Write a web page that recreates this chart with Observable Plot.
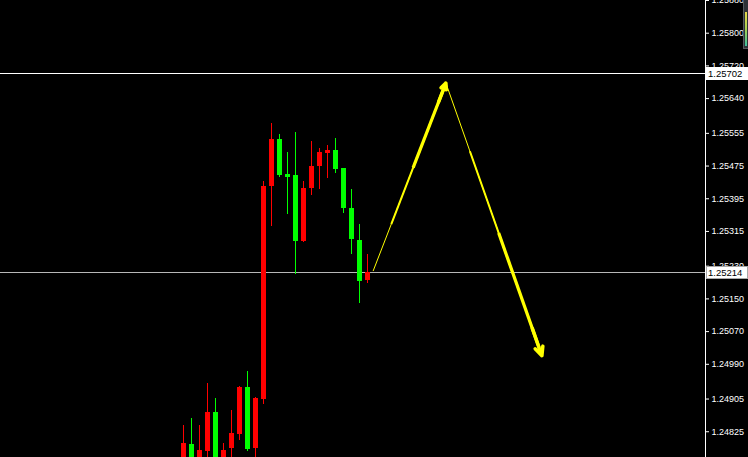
<!DOCTYPE html>
<html><head><meta charset="utf-8">
<script src="https://cdn.jsdelivr.net/npm/d3@7"></script>
<script src="https://cdn.jsdelivr.net/npm/@observablehq/plot@0.6"></script>
<style>
html,body{margin:0;padding:0;background:#000;overflow:hidden}
#chart{position:relative;width:748px;height:457px;overflow:hidden}
#widget{position:absolute;left:743px;top:0;width:5px;height:48px;background:#2e3236;border-left:1px solid #55595d;border-bottom:1px solid #55595d}
#widget div{position:absolute;left:1px;top:12px;width:2px;height:34px;background:linear-gradient(#e8d84a,#a8d050,#3cc0a0)}
</style></head><body><div id="chart"><div id="widget"><div></div></div></div>
<script>
// candle index (bar number)
const bars  = [0,1,2,3,4,5,6,7,8,9,10,11,12,13,14,15,16,17,18,19,20,21,22,23];
const open  = [1.24745,1.24794,1.24745,1.24777,1.24871,1.24745,1.24783,1.24818,1.24933,1.24783,1.24903,1.25424,1.25539,1.25452,1.25453,1.25290,1.25420,1.25473,1.25505,1.25514,1.25468,1.25372,1.25294,1.25195];
const high  = [1.24840,1.24857,1.24840,1.24942,1.24906,1.24796,1.24876,1.24935,1.24972,1.24908,1.25438,1.25580,1.25551,1.25509,1.25558,1.25436,1.25536,1.25517,1.25526,1.25543,1.25470,1.25418,1.25331,1.25258];
const low   = [1.24735,1.24735,1.24735,1.24750,1.24735,1.24735,1.24755,1.24803,1.24776,1.24750,1.24891,1.25327,1.25446,1.25356,1.25209,1.25288,1.25402,1.25417,1.25444,1.25456,1.25358,1.25258,1.25139,1.25187];
const close = [1.24796,1.24745,1.24779,1.24871,1.24745,1.24779,1.24820,1.24933,1.24781,1.24906,1.25424,1.25539,1.25451,1.25450,1.25290,1.25421,1.25475,1.25507,1.25514,1.25466,1.25371,1.25295,1.25192,1.25214];

// right price scale tick labels
const priceTicks = [1.25880,1.25800,1.25720,1.25640,1.25555,1.25475,1.25395,1.25315,1.25230,1.25150,1.25070,1.24990,1.24905,1.24825];

// horizontal price levels
const levelPrice = [1.25702, 1.25214];
const levelName  = ["high", "bid"];

// forecast arrows (bar, price)
const arrowBar1   = [23.7, 32.8];
const arrowPrice1 = [1.25218, 1.25678];
const arrowBar2   = [32.8, 44.8];
const arrowPrice2 = [1.25678, 1.25011];

const xDomain = [-22.875, 65.25];
const yDomain = [1.24762, 1.25880];

const UP = "#ff0000", DOWN = "#00ff00";
const candles = bars.map((b, k) => ({bar: b, open: open[k], high: high[k], low: low[k], close: close[k]}));
const levels = levelPrice.map((p, k) => ({price: p, name: levelName[k]}));
const arrows = [
  {x1: arrowBar1[0], y1: arrowPrice1[0], x2: arrowBar1[1], y2: arrowPrice1[1]},
  {x1: arrowBar2[0], y1: arrowPrice2[0], x2: arrowBar2[1], y2: arrowPrice2[1]}
];
const lerp = (a, b, t) => a + (b - a) * t;
const part = (t0, t1) => arrows.map(a => ({
  x1: lerp(a.x1, a.x2, t0), y1: lerp(a.y1, a.y2, t0),
  x2: lerp(a.x1, a.x2, t1), y2: lerp(a.y1, a.y2, t1)
}));
const colorOf = d => d.close >= d.open ? UP : DOWN;
const isDoji = d => Math.abs(d.close - d.open) < 0.00004;

const plot = Plot.plot({
  width: 748,
  height: 457,
  marginTop: 0,
  marginBottom: 0,
  marginLeft: 0,
  marginRight: 43,
  style: {background: "#000", color: "#fff", fontFamily: "Liberation Sans, Arial, sans-serif", fontSize: "9px"},
  x: {domain: xDomain, axis: null},
  y: {domain: yDomain, axis: null},
  color: {type: "identity"},
  marks: [
    Plot.ruleY(levels.filter(d => d.name === "high"), {y: "price", stroke: "#ffffff", strokeWidth: 1, shapeRendering: "crispEdges"}),
    Plot.ruleY(levels.filter(d => d.name === "bid"), {y: "price", stroke: "#b8b8b8", strokeWidth: 1, shapeRendering: "crispEdges"}),
    Plot.ruleX(candles, {x: "bar", y1: "low", y2: "high", stroke: colorOf, strokeWidth: 1, shapeRendering: "crispEdges"}),
    Plot.ruleX(candles.filter(d => !isDoji(d)), {x: "bar", y1: "open", y2: "close", stroke: colorOf, strokeWidth: 5, shapeRendering: "crispEdges"}),
    Plot.ruleX(candles.filter(isDoji), {x: "bar", y1: "open", y2: "close", stroke: DOWN, strokeWidth: 5, insetTop: -1, insetBottom: -1, shapeRendering: "crispEdges"}),
    Plot.link(part(0, 1), {x1: "x1", y1: "y1", x2: "x2", y2: "y2", stroke: "#ffff00", strokeWidth: 1}),
    Plot.link(part(0.25, 1), {x1: "x1", y1: "y1", x2: "x2", y2: "y2", stroke: "#ffff00", strokeWidth: 2}),
    Plot.link(part(0.55, 0.97), {x1: "x1", y1: "y1", x2: "x2", y2: "y2", stroke: "#ffff00", strokeWidth: 3.2}),
    Plot.arrow(part(0.9, 1), {x1: "x1", y1: "y1", x2: "x2", y2: "y2", stroke: "#ffff00", strokeWidth: 3.5, headLength: 11, headAngle: 50, strokeLinejoin: "miter"}),
    Plot.ruleX([xDomain[1]], {stroke: "#ffffff", strokeWidth: 1}),
    Plot.axisY(priceTicks, {anchor: "right", tickSize: 3, tickPadding: 3, tickFormat: d3.format(".5f"), stroke: "#fff", fill: "#fff", fontSize: 9})
  ]
});
document.getElementById("chart").prepend(plot);

// price tags on the right scale, placed with the plot's own scales
const ys = plot.scale("y"), xs = plot.scale("x");
const svg = d3.select(plot);
const xr = xs.range[1];
levels.forEach(d => {
  const y = Math.round(ys.apply(d.price));
  const g = svg.append("g");
  g.append("rect").attr("x", xr + 1.5).attr("y", y - 5.5).attr("width", 41).attr("height", 12)
    .attr("fill", "#fff").attr("stroke", d.name === "bid" ? "#a8a8a8" : "#fff").attr("stroke-width", 1);
  g.append("text").attr("x", xr + 3).attr("y", y + 0.5).attr("dy", "0.35em")
    .attr("text-anchor", "start")
    .attr("fill", "#000").attr("font-size", 9.5).attr("font-family", "Liberation Sans, Arial, sans-serif")
    .text(d3.format(".5f")(d.price));
});
</script>
</body></html>
